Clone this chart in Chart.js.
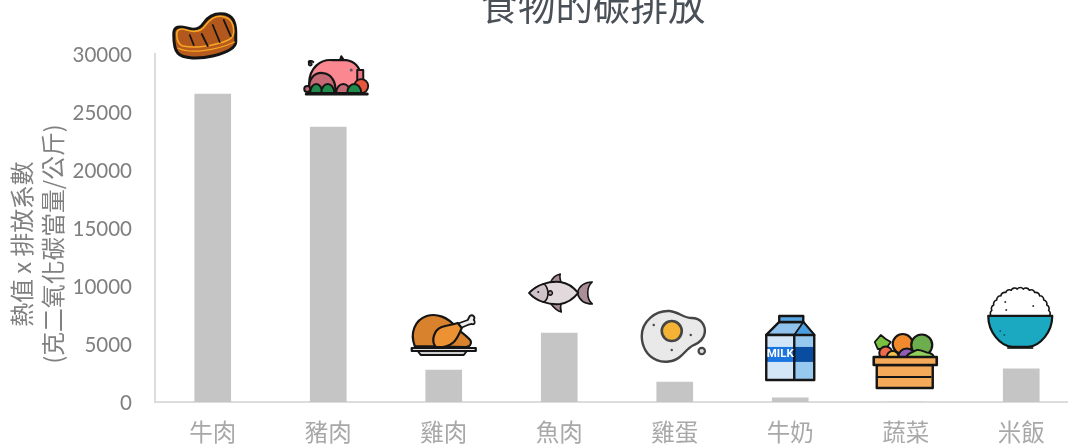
<!DOCTYPE html>
<html lang="zh-Hant">
  <head>
    <meta charset="UTF-8" />
    <title>食物的碳排放</title>
    <script src="https://cdn.jsdelivr.net/npm/chart.js@4"></script>
    <style>
      html, body { margin: 0; padding: 0; background: #fff; overflow: hidden; }
      #wrap { width: 1068px; height: 446px; overflow: hidden; }
      canvas { display: block; }
    </style>
  </head>
  <body>
    <div id="wrap"><canvas id="foodChart" width="1090" height="446"></canvas></div>
    <script>
      const categories = ["牛肉", "豬肉", "雞肉", "魚肉", "雞蛋", "牛奶", "蔬菜", "米飯"];
      const emissions = [26550, 23700, 2760, 5950, 1720, 350, 0, 2850];
      const yTicks = [0, 5000, 10000, 15000, 20000, 25000, 30000];
      const chartTitle = "食物的碳排放";
      const yTitleLines = ["熱值 x 排放系數", "(克二氧化碳當量/公斤)"];

      const CJK = '"Noto Sans CJK TC"';
      const INK = "#151515";

      function circ(x, y, r) {
        return `M${x - r},${y}a${r},${r} 0 1,0 ${2 * r},0a${r},${r} 0 1,0 ${-2 * r},0Z`;
      }

      // fill + outline one shape of an icon
      function ink(ctx, d, fill, lw = 2, stroke = INK) {
        const p = new Path2D(d);
        if (fill) { ctx.fillStyle = fill; ctx.fill(p); }
        if (lw) {
          ctx.lineWidth = lw;
          ctx.strokeStyle = stroke;
          ctx.lineJoin = "round";
          ctx.lineCap = "round";
          ctx.stroke(p);
        }
      }

      function drawBeef(ctx) {
        ink(ctx, "M-31,-3C-31,-11-25,-11-18,-9C-10,-6-5,-8-1,-14C5,-23 13,-24 20,-23C29,-21 31,-13 31,-5V5C31,12 20,16 8,19C-5,22-22,22-27,16C-30,13-31,8-31,-3Z", "#b85b1e", 3);
        ink(ctx, "M-28,-3C-28,-8-24,-9-18,-7C-9,-4-3,-6 1,-12C7,-20 14,-22 20,-20C27,-18 29,-12 29,-6C29,1 25,3 15,6C3,10-12,11-22,9C-27,7-28,3-28,-3Z", "#b3581c", 1.6, "#f7a823");
        ink(ctx, "M-15,-2L-11,8M-3,-3L3,9M8,-12L15,5M19,-17L26,-1", null, 1.8);
        ink(ctx, "M-27,11C-15,17 10,14 30,5", null, 1.2, "#f7a823");
      }

      function drawPork(ctx) {
        ink(ctx, "M-27,-12C-29,-14-25,-15-23,-13", null, 2);
        ink(ctx, circ(-26, -11, 1.6), "#555", 1.6);
        ink(ctx, "M3,-13L5,-19L9,-13Z", "#c66a74", 1.8);
        ink(ctx, "M-27,8C-27,-7-16,-16-4,-15H10C18,-14 24,-8 24,0V14H-27Z", "#fb8791", 2.2);
        ink(ctx, "M21,-5H27V8H21Z", "#e8747f", 2);
        ink(ctx, circ(15, -5, 1.5), "#555", 0);
        ink(ctx, "M-27,17C-29,2-20,-3-13,-2C-4,-1 0,8-1,17Z", "#c56a74", 2.2);
        ink(ctx, circ(25, 11, 7), "#e8553f", 1.8);
        ink(ctx, "M0,18C0,6 14,6 14,18Z", "#c56a74", 2);
        ink(ctx, "M-26,18C-26,6-14,6-14,18Z", "#1f8a4c", 2);
        ink(ctx, "M-15,18C-15,6-2,6-2,18Z", "#1f8a4c", 2);
        ink(ctx, "M11,18C11,6 25,6 25,18Z", "#1f8a4c", 2);
        ink(ctx, circ(-29, 14, 3), "#c56a74", 2);
        ink(ctx, "M-30,19H31", null, 3);
      }

      function drawChicken(ctx) {
        ink(ctx, "M-29,11C-34,-2-29,-15-17,-19C-7,-22 4,-18 12,-8C16,-3 24,1 27,6C28,9 26,12 22,12Z", "#d9822e", 2.2);
        ink(ctx, "M13,-11L24,-15L26,-19C29,-21 32,-18 30,-15C32,-13 31,-10 28,-11L24,-10L17,-7Z", "#eeeeee", 1.8);
        ink(ctx, "M-8,12C-13,6-10,-5-2,-8C4,-10 8,-10 14,-12L18,-7C16,-3 14,4 9,8C5,11 2,12-1,12Z", "#ed9232", 2.2);
        ink(ctx, "M-32,13H32V16H-32Z", "#e2e2e2", 2.2);
        ink(ctx, "M-26,16H23L20,20H-23Z", "#d0d0d0", 2);
      }

      function drawFish(ctx) {
        ink(ctx, "M-10,-10C-8,-15-5,-18 0,-19C-1,-16 0,-13 1,-10Z", "#a98d97", 1.6);
        ink(ctx, "M-10,10C-7,14-4,18 1,19C0,16 0,13 1,10Z", "#a98d97", 1.6);
        ink(ctx, "M17,0C19,-7 24,-11 32,-11C26,-6 26,6 32,11C24,11 19,7 17,0Z", "#a98d97", 1.6);
        ink(ctx, "M-31,0C-24,-8-12,-12 0,-11C8,-10 14,-5 18,0C14,5 8,10 0,11C-12,12-24,8-31,0Z", "#e2d9dd", 2);
        ink(ctx, "M-31,0C-26,-5-21,-8-16,-9C-11,-4-11,5-16,9C-21,8-26,5-31,0Z", "#cfc3c9", 1.6);
        ink(ctx, circ(-10, 0, 2.2), "#a98d97", 1.4);
        ink(ctx, circ(-22, -1, 1), INK, 0);
      }

      function drawEgg(ctx) {
        ink(ctx, "M-32,0C-32,-15-18,-26-4,-25C5,-24 10,-18 18,-18C27,-18 32,-11 31,-3C30,3 25,7 20,9C14,12 11,17 6,21C0,26-10,27-17,24C-27,20-32,10-32,0Z", "#e9e9e9", 2.4, "#454545");
        ink(ctx, circ(-2, -5, 10), "#f5b335", 2.6, "#454545");
        ink(ctx, circ(-20, -11, 1.2), "#454545", 0);
        ink(ctx, circ(17, -1, 1.2), "#454545", 0);
        ink(ctx, circ(-2, 14, 1.2), "#454545", 0);
        ink(ctx, circ(28, 15, 3.2), "#dddddd", 2.2, "#454545");
      }

      function drawMilk(ctx) {
        ink(ctx, "M-24,-13L-11,-26H13L24,-13Z", "#8fc3ee", 2.4);
        ink(ctx, "M4,-13L13,-26L24,-13Z", "#4b9fe0", 1.8);
        ink(ctx, "M-11,-26V-32H13V-26Z", "#5aa7e6", 2.4);
        ink(ctx, "M-24,-13H4V32H-24Z", "#d3e6f7", 0);
        ink(ctx, "M4,-13H24V32H4Z", "#97c8ef", 0);
        ink(ctx, "M-24,-1H4V14H-24Z", "#1a75e0", 0);
        ink(ctx, "M4,-1H24V14H4Z", "#0a4ca0", 0);
        ink(ctx, "M-24,-13H24V32H-24ZM4,-13V32", null, 2.4);
        ctx.fillStyle = "#fff";
        ctx.font = "bold 11.5px Roboto";
        ctx.textAlign = "center";
        ctx.textBaseline = "middle";
        ctx.fillText("MILK", -10, 6.5);
      }

      function drawVeg(ctx) {
        ink(ctx, "M-30,-19L-24,-26L-19,-22L-14,-19L-19,-12L-27,-12Z", "#7ac143", 1.8);
        ink(ctx, circ(-2, -17, 10), "#f08a2c", 2.2);
        ink(ctx, circ(17, -16, 10.5), "#6cae4d", 2.2);
        ink(ctx, circ(-19, -8, 6.5), "#ef6a4a", 2);
        ink(ctx, circ(-12, -4, 6), "#f6c24b", 2);
        ink(ctx, circ(2, -4, 8.5), "#8e5fb5", 2);
        ink(ctx, "M1,-3C3,-9 9,-9 12,-11C17,-12 20,-8 25,-8C28,-7 29,-5 29,-3Z", "#8fcf5a", 2);
        ink(ctx, "M-28,4H28V27H-28Z", "#f4aa58", 2.4);
        ink(ctx, "M-31,-4H32V4H-31Z", "#f4aa58", 2.6);
        ink(ctx, "M-28,16H26", null, 2);
      }

      function drawRice(ctx) {
        // scalloped top of the rice heap, bump by bump
        const n = 15;
        let d = "M-29,-2";
        for (let i = 1; i <= n; i++) {
          const a = Math.PI - (Math.PI * i) / n;
          d += `A3.8,3.8 0 0,1 ${(29 * Math.cos(a)).toFixed(1)},${(-2 - 27 * Math.sin(a)).toFixed(1)}`;
        }
        ink(ctx, d + "Z", "#ffffff", 1.6);
        ink(ctx, circ(-15, -16, 1), "#333", 0);
        ink(ctx, circ(-14, -8, 1), "#333", 0);
        ink(ctx, circ(13, -12, 1), "#333", 0);
        ink(ctx, "M-13,29H13V31H-13Z", "#333", 0);
        ink(ctx, "M-32,-2H32C32,14 20,28 8,29H-8C-20,28-32,14-32,-2Z", "#1aa9c1", 2.2);
        ink(ctx, circ(-20, 13, 1), "#0b5f6d", 0);
        ink(ctx, circ(-16, 17, 1), "#0b5f6d", 0);
      }

      // icon per category, placed relative to its bar: dx from bar centre, dy from bar top
      const iconDraw = [
        { draw: drawBeef, dx: -8, dy: -57 },
        { draw: drawPork, dx: 8, dy: -52 },
        { draw: drawChicken, dx: 0, dy: -35 },
        { draw: drawFish, dx: 1, dy: -40 },
        { draw: drawEgg, dx: -1, dy: -46 },
        { draw: drawMilk, dx: 0, dy: -50 },
        { draw: drawVeg, dx: -1, dy: -41 },
        { draw: drawRice, dx: -1, dy: -51 },
      ];

      const foodIcons = {
        id: "foodIcons",
        afterDatasetsDraw(chart) {
          const { ctx, scales } = chart;
          iconDraw.forEach((icon, i) => {
            ctx.save();
            ctx.translate(
              scales.x.getPixelForValue(i) + icon.dx,
              scales.y.getPixelForValue(emissions[i]) + icon.dy
            );
            icon.draw(ctx);
            ctx.restore();
          });
        },
      };

      // title sits left of the plot centre and partly above the top edge, axis title below centre
      const textLabels = {
        id: "textLabels",
        afterDraw(chart) {
          const { ctx } = chart;
          ctx.save();
          ctx.textAlign = "center";
          ctx.textBaseline = "middle";
          ctx.fillStyle = "#4a5058";
          ctx.font = `37.5px ${CJK}`;
          ctx.fillText(chartTitle, 593, 6);
          ctx.fillStyle = "#808080";
          ctx.font = `23.8px ${CJK}`;
          [22, 53].forEach((x, i) => {
            ctx.save();
            ctx.translate(x, 244);
            ctx.rotate(-Math.PI / 2);
            ctx.fillText(yTitleLines[i], 0, 0);
            ctx.restore();
          });
          ctx.restore();
        },
      };

      new Chart(document.getElementById("foodChart"), {
        type: "bar",
        data: {
          labels: categories,
          datasets: [
            {
              data: emissions,
              backgroundColor: "#c5c5c5",
              barThickness: 36,
            },
          ],
        },
        plugins: [foodIcons, textLabels],
        options: {
          responsive: false,
          animation: false,
          layout: { padding: { left: 0, right: 11, top: 54, bottom: 0 } },
          plugins: {
            legend: { display: false },
            tooltip: { enabled: false },
          },
          scales: {
            x: {
              grid: { display: false, drawTicks: false },
              border: { color: "#dcdcdc", width: 2 },
              ticks: {
                color: "#a8a8a8",
                padding: 16,
                maxRotation: 0,
                font: { family: CJK, size: 23.5 },
              },
              afterFit(scale) { scale.height = 44; },
            },
            y: {
              min: 0,
              max: 30000,
              grid: { display: false, drawTicks: false },
              border: { color: "#dcdcdc", width: 2 },
              afterBuildTicks(scale) {
                scale.ticks = yTicks.map((value) => ({ value }));
              },
              ticks: {
                color: "#7f7f7f",
                padding: 23,
                labelOffset: 1,
                font: { family: "Lato", size: 20.5 },
                callback: (v) => String(v),
              },
              afterFit(scale) { scale.width = 155; },
            },
          },
        },
      });
    </script>
  </body>
</html>
